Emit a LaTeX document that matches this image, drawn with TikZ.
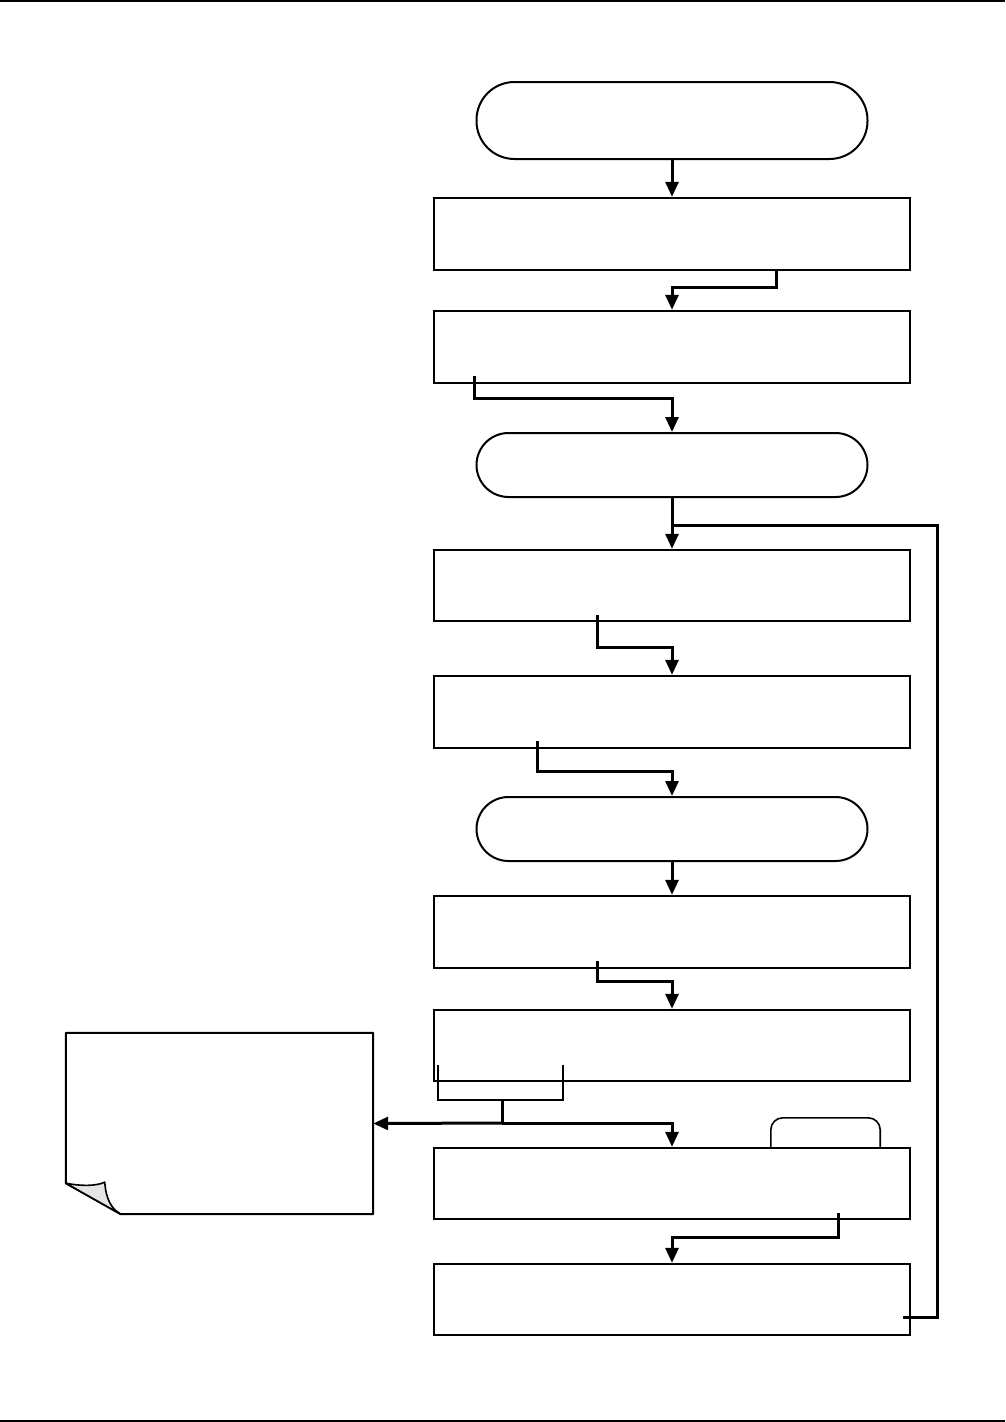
\documentclass[tikz,border=0pt]{standalone}
\usetikzlibrary{arrows.meta,calc}
\begin{document}
\begin{tikzpicture}[x=1pt,y=-1pt,
  stepbox/.style={draw,rectangle,line width=2.4pt,minimum width=476pt,minimum height=72pt,inner sep=0pt},
  termbox/.style={draw,rectangle,line width=2pt,minimum width=391pt,minimum height=64pt,rounded corners=32pt,inner sep=0pt},
  line/.style={line width=3pt},
  conn/.style={line width=3pt,-{Triangle[length=15pt,width=13pt]}},
  rule/.style={line width=2pt}]
\useasboundingbox (0,0) rectangle (1005,1422);
% page rules
\draw[rule] (0,1) -- (1005,1);
\draw[rule] (0,1421) -- (1005,1421);
% nodes
\node[termbox,minimum height=77pt,rounded corners=38pt] (t1) at (672,120.5) {};
\node[stepbox] (b1) at (672,234) {};
\node[stepbox] (b2) at (672,347) {};
\node[termbox] (t2) at (672,465) {};
\node[stepbox,minimum height=71pt] (b3) at (672,585.5) {};
\node[stepbox] (b4) at (672,712) {};
\node[termbox] (t3) at (672,829) {};
\node[stepbox] (b5) at (672,932) {};
\node[stepbox,minimum height=71pt] (b6) at (672,1045.5) {};
\node[stepbox,minimum height=71pt] (b7) at (672,1183.5) {};
\node[stepbox,minimum height=71pt] (b8) at (672,1299.5) {};
% note with dog-ear
\node[rectangle,minimum width=307pt,minimum height=181pt,inner sep=0pt] (note) at (219.5,1123.5) {};
\draw[line width=2pt,line join=round] (note.north west) -- (note.north east) -- (note.south east)
  -- ([xshift=55pt]note.south west) -- ([yshift=31pt]note.south west) -- cycle;
\draw[line width=1.6pt,fill=black!10,line join=round] ([yshift=31pt]note.south west)
  .. controls ([shift={(15pt,28pt)}]note.south west) and ([shift={(30pt,28pt)}]note.south west) .. ([shift={(39pt,32pt)}]note.south west)
  .. controls ([shift={(40pt,15pt)}]note.south west) and ([shift={(46pt,5pt)}]note.south west) .. ([xshift=55pt]note.south west)
  -- cycle;
% tab above b7
\node[rectangle,minimum width=109pt,minimum height=30pt,inner sep=0pt] (tab) at (825.5,1133) {};
\draw[line width=1.6pt,rounded corners=12pt] (tab.south west) -- (tab.north west) -- (tab.north east) -- (tab.south east);
% coordinates
\coordinate (jn) at (672,525);
\coordinate (fork) at (502,1123);
\coordinate (br) at (502,1099);
% connectors
\draw[conn] (t1) -- (b1);
\draw[conn] ([xshift=104pt]b1.south) -- ++(0,16) -| (b2.north);
\draw[conn] ([shift={(-198pt,8pt)}]b2.south) -- ++(0,22) -| (t2.north);
\draw[conn] (t2) -- (b3);
\draw[line] ([shift={(-8pt,-17.5pt)}]b8.east) -- ++(34,0) |- (jn);
\draw[conn] ([shift={(-75pt,7pt)}]b3.south) -- ++(0,32) -| (b4.north);
\draw[conn] ([shift={(-135pt,8pt)}]b4.south) -- ++(0,30) -| (t3.north);
\draw[conn] (t3) -- (b5);
\draw[conn] ([shift={(-75pt,8pt)}]b5.south) -- ++(0,20) -| (b6.north);
\draw[line,line width=2.4pt] ([shift={(5pt,17.5pt)}]b6.south west) -- ++(0,35) -- ++(125,0) -- ++(0,-35);
\draw[line] (br) -- (fork);
\draw[conn] (fork) -| (b7.north);
\draw[conn] (fork) -- (note.east);
\draw[conn] ([shift={(166pt,7pt)}]b7.south) -- ++(0,24) -| (b8.north);
\end{tikzpicture}
\end{document}
